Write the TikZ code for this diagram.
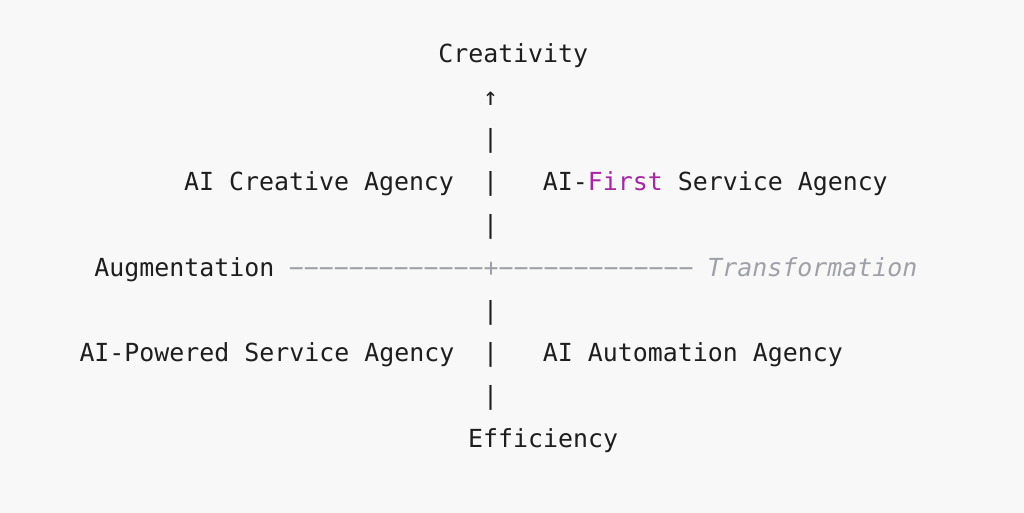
\documentclass[tikz,border=0pt]{standalone}
\usepackage{fontspec}
\setmonofont{DejaVu Sans Mono}
\definecolor{bg}{HTML}{F8F8F8}
\definecolor{ink}{HTML}{1E1E1E}
\definecolor{kw}{HTML}{A626A4}
\definecolor{cm}{HTML}{A0A1A7}
\begin{document}
\begin{tikzpicture}[x=1pt,y=1pt,
  txt/.style={inner sep=0pt, outer sep=0pt, anchor=base west, text=ink,
    font=\ttfamily\fontsize{24.9}{42.8}\selectfont},
  gry/.style={txt, text=cm}]
\useasboundingbox (0,0) rectangle (1024,513);
\fill[bg] (0,0) rectangle (1024,513);
\def\cw{14.95}
\def\ox{79.5}
% rows baselines (from top): 63,106,148,191,234,277,320,362,405,448
\node[txt] (creat) at ({\ox+24*\cw},{513-63}) {Creativity};
\node[txt] (arr) at ({\ox+27*\cw},{513-106}) {↑};
\node[txt] (v1) at ({\ox+27*\cw},{513-148}) {|};
\node[txt] (cre) at ({\ox+7*\cw},{513-191}) {AI Creative Agency};
\node[txt] (v2) at ({\ox+27*\cw},{513-191}) {|};
\node[txt] (first) at ({\ox+31*\cw},{513-191}) {AI-\textcolor{kw}{First} Service Agency};
\node[txt] (v3) at ({\ox+27*\cw},{513-234}) {|};
\node[txt] (aug) at ({\ox+1*\cw},{513-277}) {Augmentation};
\node[gry] (axis) at ({\ox+14*\cw},{513-277}) {−−−−−−−−−−−−−+−−−−−−−−−−−−−};
\node[gry] (trans) at ({\ox+42*\cw},{513-277}) {\itshape Transformation};
\node[txt] (v4) at ({\ox+27*\cw},{513-320}) {|};
\node[txt] (pow) at ({\ox+0*\cw},{513-362}) {AI-Powered Service Agency};
\node[txt] (v5) at ({\ox+27*\cw},{513-362}) {|};
\node[txt] (auto) at ({\ox+31*\cw},{513-362}) {AI Automation Agency};
\node[txt] (v6) at ({\ox+27*\cw},{513-405}) {|};
\node[txt] (eff) at ({\ox+26*\cw},{513-448}) {Efficiency};
\end{tikzpicture}
\end{document}
